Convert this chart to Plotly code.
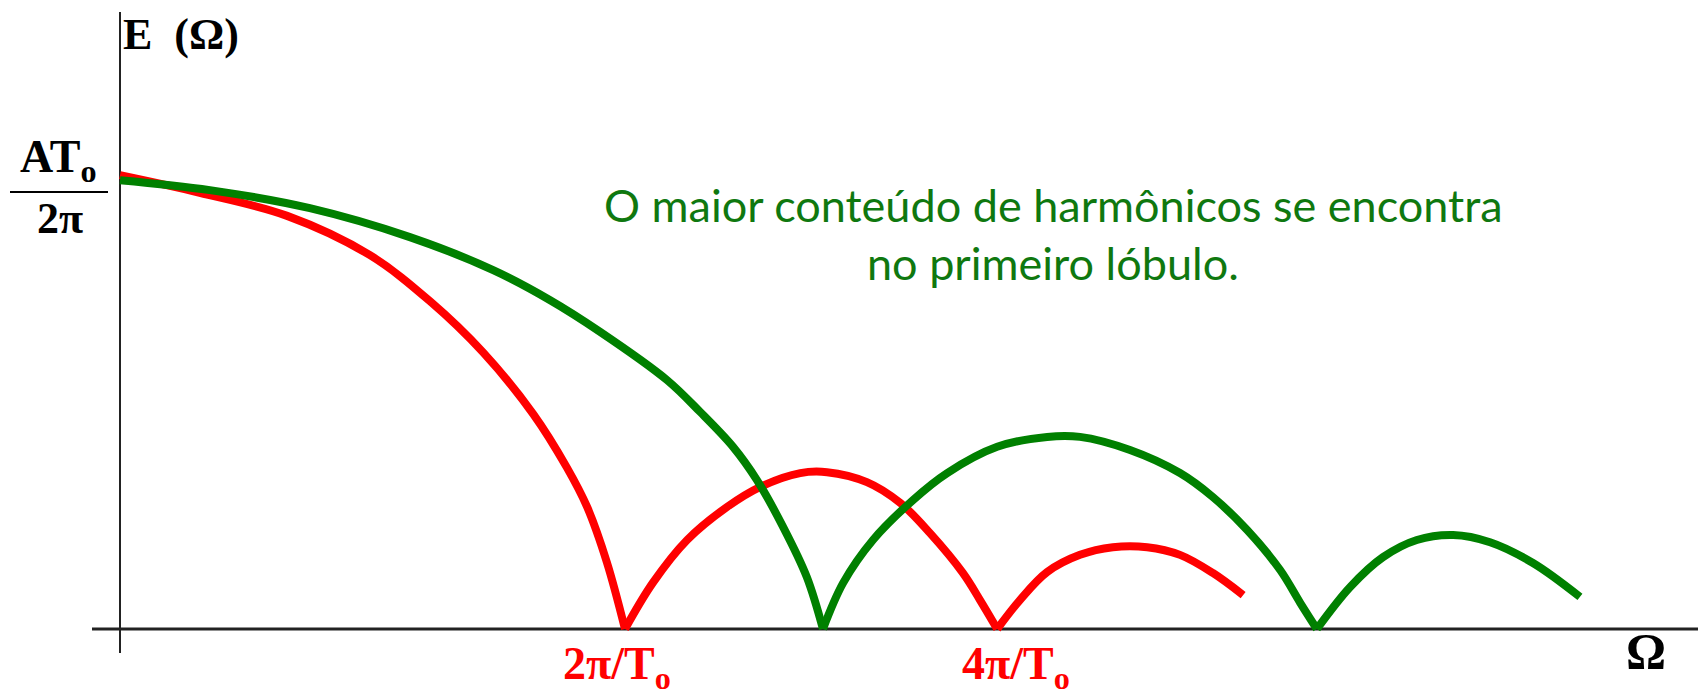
import plotly.graph_objects as go

W, H = 1706, 698

# x in units of the first red zero (2π/T0 position), y in units of AT0/2π
red_x = [0.0, 0.158, 0.331, 0.495, 0.614, 0.719, 0.818, 0.885, 0.925, 0.964, 1.0,
         1.055, 1.123, 1.202, 1.267, 1.347, 1.400, 1.479, 1.545, 1.604, 1.669, 1.703, 1.737,
         1.782, 1.836, 1.901, 1.966, 2.034, 2.099, 2.164, 2.224]
red_y = [1.004, 0.965, 0.914, 0.827, 0.725, 0.612, 0.476, 0.357, 0.270, 0.148, 0.0,
         0.102, 0.197, 0.270, 0.314, 0.345, 0.347, 0.325, 0.279, 0.212, 0.124, 0.064, 0.0,
         0.064, 0.126, 0.164, 0.181, 0.181, 0.164, 0.124, 0.075]

green_x = [0.0, 0.178, 0.376, 0.574, 0.739, 0.851, 0.950, 1.083, 1.149, 1.214, 1.261, 1.313,
           1.360, 1.392, 1.432, 1.491, 1.570, 1.638, 1.737, 1.836, 1.901, 2.000, 2.099, 2.164,
           2.232, 2.297, 2.337, 2.370, 2.436, 2.501, 2.568, 2.640, 2.713, 2.798, 2.891]
green_y = [0.993, 0.971, 0.931, 0.867, 0.794, 0.728, 0.658, 0.551, 0.480, 0.403, 0.330, 0.226,
           0.115, 0.0, 0.102, 0.197, 0.285, 0.345, 0.403, 0.425, 0.425, 0.396, 0.345, 0.292,
           0.219, 0.131, 0.058, 0.0, 0.093, 0.159, 0.197, 0.208, 0.192, 0.146, 0.071]

tick_positions = [0.985, 1.775]
tick_labels = ["2π/T<sub>o</sub>", "4π/T<sub>o</sub>"]

y_label = "E&#8194;(Ω)"
x_label = "Ω"
y_tick_num = "AT<sub>o</sub>"
y_tick_den = "2π"
note_lines = ["O maior conteúdo de harmônicos se encontra", "no primeiro lóbulo."]

# pixel mapping of the plot (whole page)
X0PX, XUNIT = 120, 505
Y0PX, YUNIT = 629, 452
x_range = [(0 - X0PX) / XUNIT, (W - X0PX) / XUNIT]
y_range = [(Y0PX - H) / YUNIT, Y0PX / YUNIT]


def px(xp):
    return xp / W


def py(yp):
    return 1 - yp / H


def lobes(xs, ys):
    """Split a curve into its lobes at the zero points."""
    out, cx, cy = [], [], []
    for i, (a, b) in enumerate(zip(xs, ys)):
        cx.append(a)
        cy.append(b)
        if b == 0 and i > 0:
            out.append((cx, cy))
            cx, cy = [a], [b]
    if len(cx) > 1:
        out.append((cx, cy))
    return out


fig = go.Figure()
for xs, ys, col in [(red_x, red_y, "#ff0000"), (green_x, green_y, "#008000")]:
    for lx, ly in lobes(xs, ys):
        fig.add_trace(go.Scatter(x=lx, y=ly, mode="lines",
                                 line=dict(color=col, width=8, shape="spline", smoothing=1.0),
                                 showlegend=False, hoverinfo="skip"))

serif = "Liberation Serif, Times New Roman, serif"

annotations = [
    dict(x=px(121), y=py(34), xref="paper", yref="paper", text=f"<b>{y_label}</b>",
         xanchor="left", yanchor="middle", showarrow=False,
         font=dict(family=serif, size=44, color="black")),
    dict(x=px(58), y=py(160), xref="paper", yref="paper", text=f"<b>{y_tick_num}</b>",
         xanchor="center", yanchor="middle", showarrow=False,
         font=dict(family=serif, size=46, color="black")),
    dict(x=px(60), y=py(218), xref="paper", yref="paper", text=f"<b>{y_tick_den}</b>",
         xanchor="center", yanchor="middle", showarrow=False,
         font=dict(family=serif, size=44, color="black")),
    dict(x=px(1646), y=py(651), xref="paper", yref="paper", text=f"<b>{x_label}</b>",
         xanchor="center", yanchor="middle", showarrow=False,
         font=dict(family=serif, size=50, color="black")),
    dict(x=px(1053), y=py(205), xref="paper", yref="paper", text=note_lines[0],
         xanchor="center", yanchor="middle", showarrow=False,
         font=dict(family="Lato", size=45, color="#0f780f")),
    dict(x=px(1053), y=py(263), xref="paper", yref="paper", text=note_lines[1],
         xanchor="center", yanchor="middle", showarrow=False,
         font=dict(family="Lato", size=45, color="#0f780f")),
]
for tp, tl in zip(tick_positions, tick_labels):
    annotations.append(dict(x=tp, y=py(667), xref="x", yref="paper", text=f"<b>{tl}</b>",
                            xanchor="center", yanchor="middle", showarrow=False,
                            font=dict(family=serif, size=46, color="#ff0000")))

shapes = [
    # x axis
    dict(type="line", xref="paper", yref="y", x0=px(92), x1=px(1698), y0=0, y1=0,
         line=dict(color="#222222", width=3), layer="below"),
    # y axis
    dict(type="line", xref="x", yref="paper", x0=0, x1=0, y0=py(12), y1=py(653),
         line=dict(color="#222222", width=2), layer="below"),
    # fraction bar
    dict(type="line", xref="paper", yref="paper", x0=px(10), x1=px(108), y0=py(192), y1=py(192),
         line=dict(color="black", width=2)),
]

fig.update_layout(
    width=W, height=H,
    margin=dict(l=0, r=0, t=0, b=0),
    paper_bgcolor="white", plot_bgcolor="white",
    xaxis=dict(range=x_range, visible=False, fixedrange=True),
    yaxis=dict(range=y_range, visible=False, fixedrange=True),
    annotations=annotations,
    shapes=shapes,
    showlegend=False,
)

fig.write_html("out.html", config={"displayModeBar": False},
               post_script="document.body.style.margin='0';document.body.style.overflow='hidden';")
